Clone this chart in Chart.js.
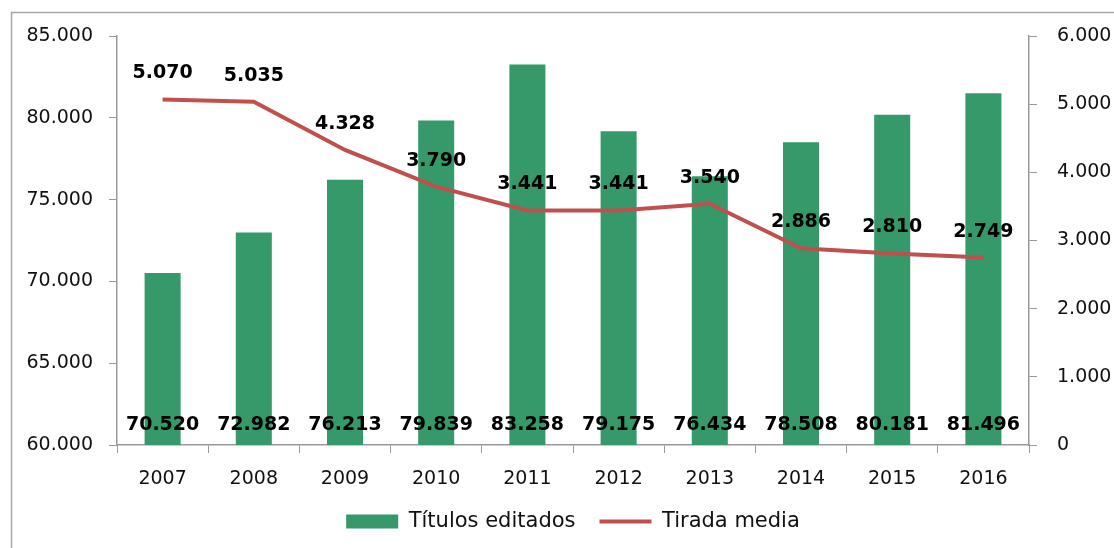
<!DOCTYPE html>
<html>
<head>
<meta charset="utf-8">
<script src="https://cdn.jsdelivr.net/npm/chart.js@4/dist/chart.umd.min.js"></script>
<style>
  html, body { margin: 0; padding: 0; background: #ffffff; }
  #wrap { width: 1114px; height: 548px; }
</style>
</head>
<body>
<div id="wrap"><canvas id="grafico"></canvas></div>
<script>
// datos
const anios = ['2007', '2008', '2009', '2010', '2011', '2012', '2013', '2014', '2015', '2016'];
const titulosEditados = [70520, 72982, 76213, 79839, 83258, 79175, 76434, 78508, 80181, 81496];
const tiradaMedia = [5070, 5035, 4328, 3790, 3441, 3441, 3540, 2886, 2810, 2749];
const ejeIzq = { min: 60000, max: 85000, paso: 5000 };
const ejeDer = { min: 0, max: 6000, paso: 1000 };

const FUENTE = "'DejaVu Sans'";
const VERDE = '#35996A';
const ROJO = '#C0504D';
const GRIS = '#999999';
const TEXTO = '#111111';

function formato(n) {
    return String(n).replace(/\B(?=(\d{3})+(?!\d))/g, '.');
}

// marco exterior y etiquetas de datos
const pluginEtiquetas = {
    id: 'etiquetas',
    beforeDraw(chart) {
        const ctx = chart.ctx;
        ctx.save();
        ctx.strokeStyle = '#a6a6a6';
        ctx.lineWidth = 1.5;
        ctx.strokeRect(11.5, 12.5, 1300, 700);
        ctx.restore();
    },
    afterDatasetsDraw(chart) {
        const ctx = chart.ctx;
        const yIzq = chart.scales.y;
        ctx.save();
        ctx.font = 'bold 19px ' + FUENTE;
        ctx.fillStyle = '#000000';
        ctx.textAlign = 'center';
        ctx.textBaseline = 'middle';
        const base = yIzq.getPixelForValue(ejeIzq.min);
        chart.getDatasetMeta(0).data.forEach((el, i) => {
            ctx.fillText(formato(titulosEditados[i]), el.x, base - 20);
        });
        chart.getDatasetMeta(1).data.forEach((el, i) => {
            ctx.fillText(formato(tiradaMedia[i]), el.x, el.y - 26);
        });
        ctx.restore();
    }
};

const canvas = document.getElementById('grafico');

new Chart(canvas, {
    type: 'bar',
    data: {
        labels: anios,
        datasets: [{
            type: 'bar',
            label: 'Títulos editados',
            data: titulosEditados,
            backgroundColor: VERDE,
            yAxisID: 'y',
            barPercentage: 0.395,
            categoryPercentage: 1,
            order: 1
        }, {
            type: 'line',
            label: 'Tirada media',
            data: tiradaMedia,
            borderColor: ROJO,
            backgroundColor: ROJO,
            borderWidth: 4,
            pointRadius: 0,
            tension: 0,
            yAxisID: 'y1',
            order: 0
        }]
    },
    options: {
        responsive: true,
        maintainAspectRatio: false,
        animation: false,
        layout: {
            padding: { top: 36, left: 0, right: 0, bottom: 6 }
        },
        scales: {
            x: {
                offset: true,
                grid: {
                    offset: true,
                    drawOnChartArea: false,
                    drawTicks: true,
                    tickLength: 8,
                    color: GRIS
                },
                border: { color: GRIS, width: 1.5 },
                ticks: {
                    color: TEXTO,
                    font: { family: FUENTE, size: 19 },
                    padding: 15,
                    maxRotation: 0
                },
                afterFit(scale) { scale.height = 42; }
            },
            y: {
                position: 'left',
                min: ejeIzq.min,
                max: ejeIzq.max,
                grid: {
                    drawOnChartArea: false,
                    drawTicks: true,
                    tickLength: 8,
                    color: GRIS
                },
                border: { color: GRIS, width: 1.5 },
                ticks: {
                    stepSize: ejeIzq.paso,
                    color: TEXTO,
                    font: { family: FUENTE, size: 19 },
                    padding: 16,
                    callback: v => formato(v)
                },
                afterFit(scale) { scale.width = 117; }
            },
            y1: {
                position: 'right',
                min: ejeDer.min,
                max: ejeDer.max,
                grid: {
                    drawOnChartArea: false,
                    drawTicks: true,
                    tickLength: 8,
                    color: GRIS
                },
                border: { color: GRIS, width: 1.5 },
                ticks: {
                    stepSize: ejeDer.paso,
                    color: TEXTO,
                    font: { family: FUENTE, size: 19 },
                    padding: 20,
                    callback: v => formato(v)
                },
                afterFit(scale) { scale.width = 85; }
            }
        },
        plugins: {
            legend: {
                position: 'bottom',
                fullSize: false,
                labels: {
                    color: TEXTO,
                    font: { family: FUENTE, size: 21 },
                    usePointStyle: true,
                    pointStyleWidth: 52,
                    boxHeight: 14,
                    padding: 24,
                    generateLabels(chart) {
                        return [{
                            text: 'Títulos editados',
                            fillStyle: VERDE,
                            strokeStyle: VERDE,
                            lineWidth: 0,
                            pointStyle: 'rect',
                            datasetIndex: 0,
                            fontColor: TEXTO
                        }, {
                            text: 'Tirada media',
                            fillStyle: ROJO,
                            strokeStyle: ROJO,
                            lineWidth: 4,
                            pointStyle: 'line',
                            datasetIndex: 1,
                            fontColor: TEXTO
                        }];
                    }
                }
            },
            tooltip: { enabled: false }
        }
    },
    plugins: [pluginEtiquetas]
});
</script>
</body>
</html>
